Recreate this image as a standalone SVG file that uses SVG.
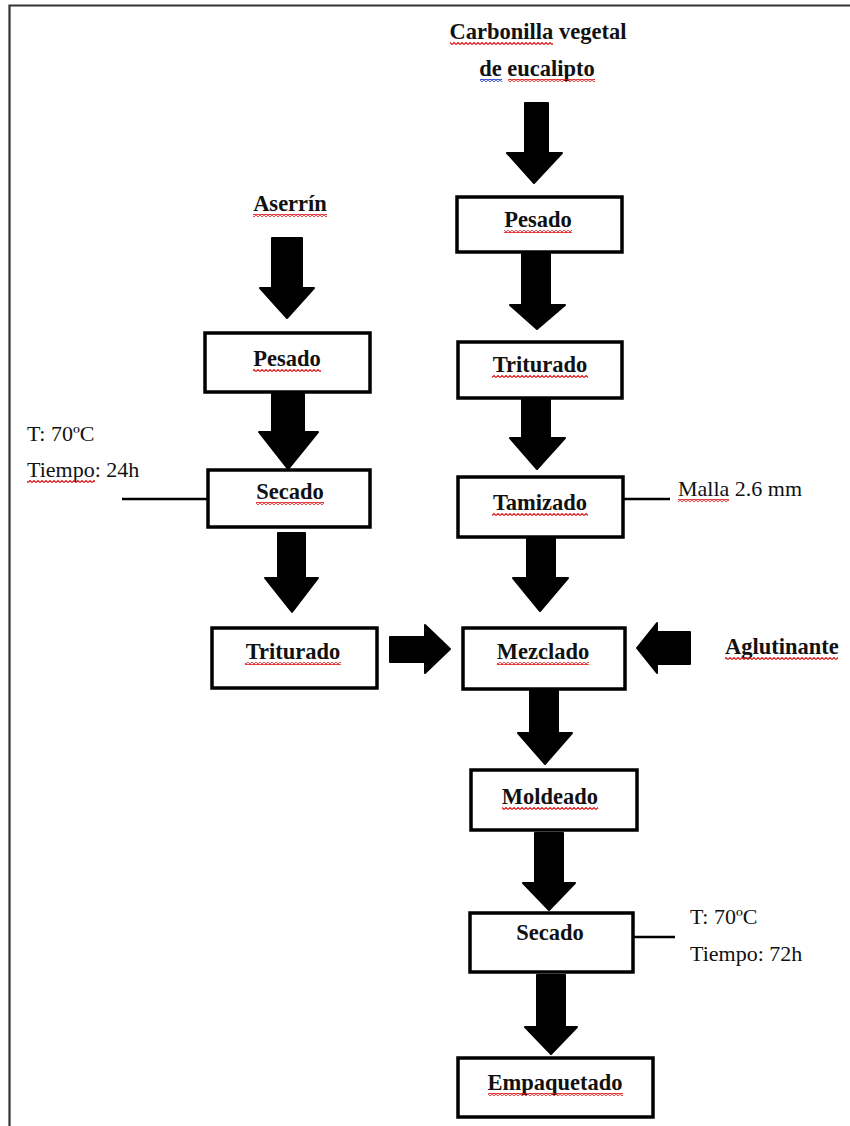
<svg xmlns="http://www.w3.org/2000/svg" width="850" height="1126" viewBox="0 0 850 1126">
<defs>
<style>
.box{fill:#fff;stroke:#000;stroke-width:3.5}
.arr{fill:#000;stroke:#000;stroke-width:2;stroke-linejoin:round}
.ln{stroke:#000;stroke-width:2.5;fill:none}
.b{font-family:"Liberation Serif","Times New Roman",serif;font-weight:bold;font-size:22.5px;fill:#111;text-anchor:middle}
.r{font-family:"Liberation Serif","Times New Roman",serif;font-size:22px;fill:#111}
.sq{fill:url(#red)}
.sqb{fill:url(#blue)}
</style>
<pattern id="red" patternUnits="userSpaceOnUse" width="4" height="3"><path d="M0 2.5 L2 0.5 L4 2.5" fill="none" stroke="#e01010" stroke-width="1.1"/></pattern>
<pattern id="blue" patternUnits="userSpaceOnUse" width="4" height="3"><path d="M0 2.5 L2 0.5 L4 2.5" fill="none" stroke="#1a2fd0" stroke-width="1.1"/></pattern>
</defs>
<rect width="850" height="1126" fill="#fff"/>
<g id="frame"><path d="M9.5 1126 V5.5 H850" fill="none" stroke="#333" stroke-width="2.2"/></g>

<g id="connectors">
<polygon class="arr" points="272,238 302,238 302,288 314,288 287,318 260,288 272,288"/>
<polygon class="arr" points="272,393 304,393 304,432 318,432 288,469 259,432 272,432"/>
<polygon class="arr" points="278,533 305,533 305,578 318,578 292,612 265,578 278,578"/>
<polygon class="arr" points="525,103 548,103 548,153 562,153 534,183 507,153 525,153"/>
<polygon class="arr" points="522,254 550,254 550,305 565,305 537,329 510,305 522,305"/>
<polygon class="arr" points="522,399 550,399 550,438 565,438 537,469 510,438 522,438"/>
<polygon class="arr" points="527,538 555,538 555,578 568,578 540,611 513,578 527,578"/>
<polygon class="arr" points="530,690 558,690 558,733 572,733 545,764 518,733 530,733"/>
<polygon class="arr" points="535,833 563,833 563,883 575,883 549,910 523,883 535,883"/>
<polygon class="arr" points="537,975 565,975 565,1027 577,1027 551,1054 525,1027 537,1027"/>
<polygon class="arr" points="390,637 425,637 425,625 450,649 425,673 425,662 390,662"/>
<polygon class="arr" points="690,632 657,632 657,623 637,648 657,673 657,664 690,664"/>
<line class="ln" x1="122" y1="499" x2="208" y2="499"/>
<line class="ln" x1="623" y1="499" x2="670" y2="499"/>
<line class="ln" x1="633" y1="937" x2="675" y2="937"/>
</g>

<g id="carbonilla">
<text class="b" x="538" y="39">Carbonilla vegetal</text>
<text class="b" x="537" y="76">de eucalipto</text>
<rect class="sq" x="450" y="42" width="103" height="3"/>
<rect class="sqb" x="480" y="79" width="22" height="3"/>
<rect class="sq" x="508" y="79" width="87" height="3"/>
</g>
<g id="aserrin">
<text class="b" x="290" y="211">Aserrín</text>
<rect class="sq" x="253" y="214" width="74" height="3"/>
</g>
<g id="pesado-l">
<rect class="box" x="205" y="333" width="165" height="59"/>
<text class="b" x="287" y="366">Pesado</text>
<rect class="sq" x="253" y="369" width="68" height="3"/>
</g>
<g id="secado-l">
<rect class="box" x="208" y="470" width="162" height="57"/>
<text class="b" x="290" y="499">Secado</text>
<rect class="sq" x="256" y="502" width="68" height="3"/>
</g>
<g id="cond-l">
<text class="r" x="27" y="441">T: 70ºC</text>
<text class="r" x="27" y="477">Tiempo: 24h</text>
<rect class="sq" x="27" y="480" width="68" height="3"/>
</g>
<g id="triturado-l">
<rect class="box" x="212" y="628" width="165" height="60"/>
<text class="b" x="293" y="659">Triturado</text>
<rect class="sq" x="245" y="662" width="96" height="3"/>
</g>
<g id="pesado-r">
<rect class="box" x="457" y="197" width="165" height="55"/>
<text class="b" x="538" y="227">Pesado</text>
<rect class="sq" x="504" y="230" width="68" height="3"/>
</g>
<g id="triturado-r">
<rect class="box" x="458" y="342" width="164" height="56"/>
<text class="b" x="540" y="372">Triturado</text>
<rect class="sq" x="492" y="375" width="96" height="3"/>
</g>
<g id="tamizado">
<rect class="box" x="458" y="477" width="165" height="60"/>
<text class="b" x="540" y="510">Tamizado</text>
<rect class="sq" x="492" y="513" width="96" height="3"/>
</g>
<g id="malla">
<text class="r" x="678" y="496">Malla 2.6 mm</text>
<rect class="sq" x="678" y="499" width="51" height="3"/>
</g>
<g id="mezclado">
<rect class="box" x="463" y="628" width="162" height="61"/>
<text class="b" x="543" y="659">Mezclado</text>
<rect class="sq" x="497" y="662" width="92" height="3"/>
</g>
<g id="aglutinante">
<text class="b" x="725" y="654" style="text-anchor:start">Aglutinante</text>
<rect class="sq" x="725" y="657" width="113" height="3"/>
</g>
<g id="moldeado">
<rect class="box" x="471" y="770" width="166" height="60"/>
<text class="b" x="550" y="804">Moldeado</text>
<rect class="sq" x="502" y="807" width="96" height="3"/>
</g>
<g id="secado-r">
<rect class="box" x="470" y="913" width="163" height="59"/>
<text class="b" x="550" y="940">Secado</text>
</g>
<g id="cond-r">
<text class="r" x="690" y="924">T: 70ºC</text>
<text class="r" x="690" y="961">Tiempo: 72h</text>
</g>
<g id="empaquetado">
<rect class="box" x="458" y="1058" width="195" height="59"/>
<text class="b" x="555" y="1090">Empaquetado</text>
<rect class="sq" x="488" y="1093" width="135" height="3"/>
</g>
</svg>
